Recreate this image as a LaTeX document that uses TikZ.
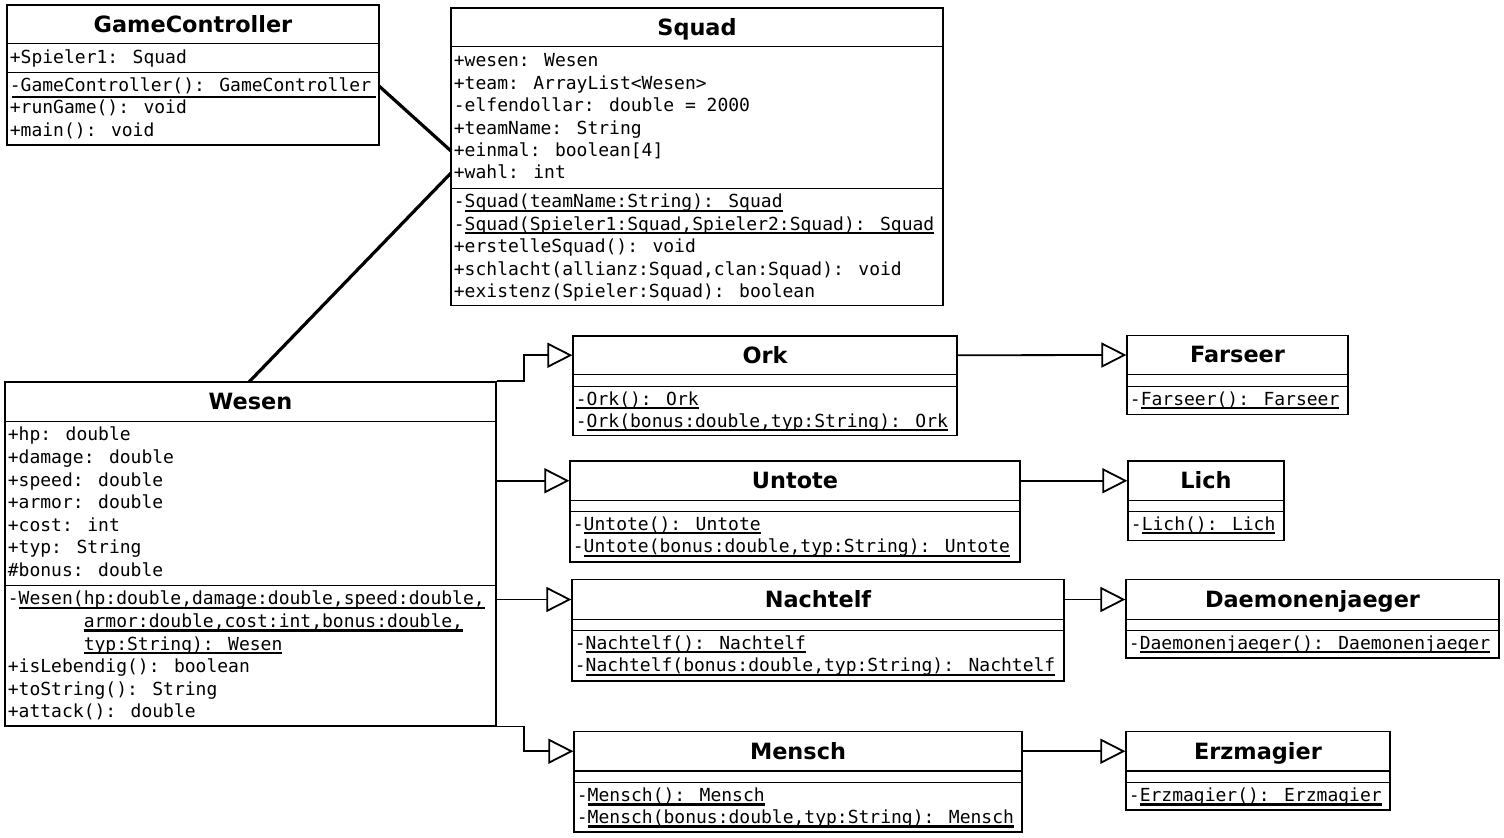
\documentclass[tikz,border=0pt]{standalone}
\usepackage{fontspec}
\usepackage{tikz}
\usetikzlibrary{arrows.meta, fit}

\newfontfamily\umlmono{DejaVu Sans Mono}
\newfontfamily\umlsans{DejaVu Sans}
% underline for static members
\newcommand{\umlul}[1]{\setbox0=\hbox{#1}\rlap{\vrule width\wd0 height -0.8pt depth 2pt}\box0}

\begin{document}
\begin{tikzpicture}[x=0.5pt, y=-0.5pt,
    box/.style={draw, line width=0.6pt, inner sep=0pt},
    ctitle/.style={box, label={[font=\umlsans\bfseries\fontsize{11.2pt}{13pt}\selectfont, text height=8pt, text depth=0pt, inner sep=0pt]center:#1}},
    row/.style={anchor=base west, inner sep=0pt, font=\umlmono\fontsize{9pt}{11pt}\selectfont},
    inherit/.style={line width=0.9pt, -{Triangle[open, length=12.5pt, width=12.5pt]}},
    assoc/.style={line width=1.6pt}]
    \useasboundingbox (0,0) rectangle (1504,838);

    % GameController
    \node[box, fit={(7,5) (379,145)}] (gc) {};
    \node[ctitle=GameController, fit={(7,5) (379,43.5)}] (gcT) {};
    \draw (7,72) -- (379,72);
    \node[row] (gc-a1) at (9.5,63.5) {+Spieler1: Squad};
    \node[row] (gc-m1) at (9.5,91.5) {-GameController(): GameController};
    \node[row] (gc-m2) at (9.5,114) {+runGame(): void};
    \node[row] (gc-m3) at (9.5,136.5) {+main(): void};
    \draw[line width=1.2pt] (12,97) -- (376,97);

    % Squad
    \node[box, fit={(451,8) (943,305.5)}] (sq) {};
    \node[ctitle=Squad, fit={(451,8) (943,46.5)}] (sqT) {};
    \draw (451,188.5) -- (943,188.5);
    \foreach \t [count=\i] in {+wesen: Wesen, +team: ArrayList<Wesen>, -elfendollar: double = 2000,
        +teamName: String, +einmal: boolean[4], +wahl: int}
        \node[row] (sq-a\i) at (453.5, {67+(\i-1)*22.4}) {\t};
    \foreach \t [count=\i] in {{-\umlul{Squad(teamName:String): Squad}},
        {-\umlul{Squad(Spieler1:Squad,Spieler2:Squad): Squad}},
        {+erstelleSquad(): void}, {+schlacht(allianz:Squad,clan:Squad): void},
        {+existenz(Spieler:Squad): boolean}}
        \node[row] (sq-m\i) at (453.5, {208+(\i-1)*22.4}) {\t};

    % Wesen
    \node[box, fit={(5,382) (496,726)}] (wesen) {};
    \node[ctitle=Wesen, fit={(5,382) (496,421.5)}] (wesenT) {};
    \draw (5,585.5) -- (496,585.5);
    \foreach \t [count=\i] in {+hp: double, +damage: double, +speed: double, +armor: double,
        +cost: int, +typ: String, \#bonus: double}
        \node[row] (wesen-a\i) at (7.5, {441+(\i-1)*22.6}) {\t};
    \foreach \t [count=\i] in {{-\umlul{Wesen(hp:double,damage:double,speed:double,}},
        {\phantom{-Wesen(}\umlul{armor:double,cost:int,bonus:double,}},
        {\phantom{-Wesen(}\umlul{typ:String): Wesen}},
        {+isLebendig(): boolean}, {+toString(): String}, {+attack(): double}}
        \node[row] (wesen-m\i) at (7.5, {605+(\i-1)*22.6}) {\t};

    % Ork
    \node[box, fit={(573,336) (957,435.5)}] (ork) {};
    \node[ctitle=Ork, fit={(573,336) (957,374.5)}] (orkT) {};
    \draw (573,386) -- (957,386);
    \node[row] (ork-m1) at (575.5,405.5) {\umlul{-Ork(): Ork}};
    \node[row] (ork-m2) at (575.5,427.5) {-\umlul{Ork(bonus:double,typ:String): Ork}};

    % Untote
    \node[box, fit={(570,461) (1020,562)}] (untote) {};
    \node[ctitle=Untote, fit={(570,461) (1020,500.5)}] (untoteT) {};
    \draw (570,511.5) -- (1020,511.5);
    \node[row] (untote-m1) at (572.5,530.5) {-\umlul{Untote(): Untote}};
    \node[row] (untote-m2) at (572.5,553) {-\umlul{Untote(bonus:double,typ:String): Untote}};

    % Nachtelf
    \node[box, fit={(572,579.5) (1064,681)}] (nachtelf) {};
    \node[ctitle=Nachtelf, fit={(572,579.5) (1064,619.5)}] (nachtelfT) {};
    \draw (572,630.5) -- (1064,630.5);
    \node[row] (nachtelf-m1) at (574.5,649.5) {-\umlul{Nachtelf(): Nachtelf}};
    \node[row] (nachtelf-m2) at (574.5,672) {-\umlul{Nachtelf(bonus:double,typ:String): Nachtelf}};

    % Mensch
    \node[box, fit={(574,731.5) (1022,832)}] (mensch) {};
    \node[ctitle=Mensch, fit={(574,731.5) (1022,771)}] (menschT) {};
    \draw (574,782) -- (1022,782);
    \node[row] (mensch-m1) at (576.5,801.5) {-\umlul{Mensch(): Mensch}};
    \node[row] (mensch-m2) at (576.5,823.5) {-\umlul{Mensch(bonus:double,typ:String): Mensch}};

    % Farseer
    \node[box, fit={(1127,335.5) (1348,414.5)}] (farseer) {};
    \node[ctitle=Farseer, fit={(1127,335.5) (1348,374.5)}] (farseerT) {};
    \draw (1127,386) -- (1348,386);
    \node[row] (farseer-m1) at (1129.5,405.5) {-\umlul{Farseer(): Farseer}};

    % Lich
    \node[box, fit={(1128,461) (1284,540.5)}] (lich) {};
    \node[ctitle=Lich, fit={(1128,461) (1284,500.5)}] (lichT) {};
    \draw (1128,511.5) -- (1284,511.5);
    \node[row] (lich-m1) at (1130.5,530.5) {-\umlul{Lich(): Lich}};

    % Daemonenjaeger
    \node[box, fit={(1126,579.5) (1499,658)}] (daemon) {};
    \node[ctitle=Daemonenjaeger, fit={(1126,579.5) (1499,619.5)}] (daemonT) {};
    \draw (1126,630.5) -- (1499,630.5);
    \node[row] (daemon-m1) at (1128.5,649.5) {-\umlul{Daemonenjaeger(): Daemonenjaeger}};

    % Erzmagier
    \node[box, fit={(1126,731.5) (1390,810)}] (erz) {};
    \node[ctitle=Erzmagier, fit={(1126,731.5) (1390,771)}] (erzT) {};
    \draw (1126,782) -- (1390,782);
    \node[row] (erz-m1) at (1128.5,801.5) {-\umlul{Erzmagier(): Erzmagier}};

    % Associations
    \coordinate (gc-out) at (379,86);
    \coordinate (sq-in1) at (451,151);
    \coordinate (sq-in2) at (451,173);
    \coordinate (wesen-in) at (249,382);
    \draw[assoc] (gc-out) -- (sq-in1);
    \draw[assoc] (sq-in2) -- (wesen-in);

    % Generalizations
    \draw[inherit] (wesen.north east) -- ++(27,0) |- (orkT.west);
    \draw[inherit] (wesen.east |- untoteT.west) -- (untoteT.west);
    \draw[inherit] (wesen.east |- nachtelfT.west) -- (nachtelfT.west);
    \draw[inherit] (wesen.south east) -- ++(27,0) |- (menschT.west);
    \draw[inherit] (orkT.east) -- (farseerT.west);
    \draw[inherit] (untoteT.east) -- (lichT.west);
    \draw[inherit] (nachtelfT.east) -- (daemonT.west);
    \draw[inherit] (menschT.east) -- (erzT.west);
\end{tikzpicture}
\end{document}
